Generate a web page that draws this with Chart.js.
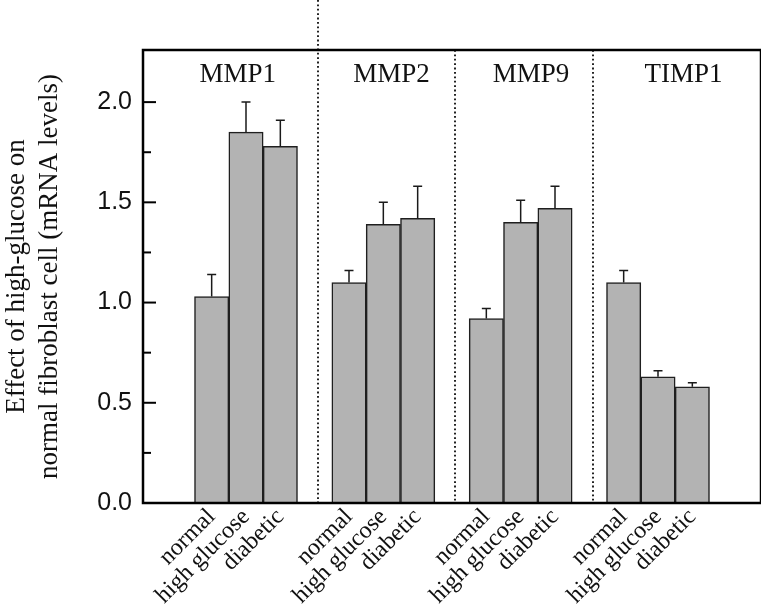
<!DOCTYPE html>
<html>
<head>
<meta charset="utf-8">
<script src="https://cdn.jsdelivr.net/npm/chart.js@4.4.0/dist/chart.umd.min.js"></script>
<style>
  html, body { margin: 0; padding: 0; background: #fff; }
  #wrap { width: 761px; height: 607px; position: relative; }
</style>
</head>
<body>
<div id="wrap"><canvas id="chart"></canvas></div>
<script>
// genes (panels) and conditions (bars in each panel)
const genes = ['MMP1', 'MMP2', 'MMP9', 'TIMP1'];
const conditions = ['normal', 'high glucose', 'diabetic'];

// mean mRNA level, condition order
const mmp1 = [1.03, 1.85, 1.78];
const mmp2 = [1.10, 1.39, 1.42];
const mmp9 = [0.92, 1.40, 1.47];
const timp1 = [1.10, 0.63, 0.58];

// upper error bars
const mmp1Err = [0.11, 0.15, 0.13];
const mmp2Err = [0.06, 0.11, 0.16];
const mmp9Err = [0.05, 0.11, 0.11];
const timp1Err = [0.06, 0.03, 0.02];

// labelled y ticks
const yTicks = [0.0, 0.5, 1.0, 1.5, 2.0];

// gene label positions on the x axis (axis units)
const geneLabelX = [2.76, 7.24, 11.3, 15.74];

const means = [mmp1, mmp2, mmp9, timp1];
const errs = [mmp1Err, mmp2Err, mmp9Err, timp1Err];

// bars sit one slot apart, with an empty slot between panels
const barData = [];
const barErr = [];
const tickPos = [];
const tickText = [];
genes.forEach((g, gi) => {
    conditions.forEach((c, ci) => {
        const pos = 2 + gi * 4 + ci;
        barData.push({ x: pos, y: means[gi][ci] });
        barErr.push(errs[gi][ci]);
        tickPos.push(pos);
        tickText.push(c);
    });
});
const separators = genes.slice(1).map((g, i) => 2 + (i + 1) * 4 - 0.9);

const serif = 'Liberation Serif, Times New Roman, serif';
const sans = 'Liberation Sans, Arial, sans-serif';

const decorPlugin = {
    id: 'decor',
    afterDatasetsDraw(chart) {
        const { ctx, chartArea: a, scales: { x, y } } = chart;
        ctx.save();

        // error bars (upper only)
        ctx.strokeStyle = '#1a1a1a';
        ctx.lineWidth = 1.5;
        barData.forEach((d, i) => {
            const px = x.getPixelForValue(d.x);
            const top = y.getPixelForValue(d.y);
            const cap = y.getPixelForValue(d.y + barErr[i]);
            ctx.beginPath();
            ctx.moveTo(px, top);
            ctx.lineTo(px, cap);
            ctx.moveTo(px - 4.5, cap);
            ctx.lineTo(px + 4.5, cap);
            ctx.stroke();
        });

        // dotted separators between panels
        ctx.strokeStyle = '#222';
        ctx.lineWidth = 2;
        ctx.setLineDash([1.8, 2.6]);
        separators.forEach((s, i) => {
            const px = Math.round(x.getPixelForValue(s));
            ctx.beginPath();
            ctx.moveTo(px, i === 0 ? 0 : a.top);
            ctx.lineTo(px, a.bottom);
            ctx.stroke();
        });
        ctx.setLineDash([]);

        // gene names
        ctx.fillStyle = '#111';
        ctx.font = '27px ' + serif;
        ctx.textAlign = 'center';
        ctx.textBaseline = 'middle';
        genes.forEach((g, i) => {
            ctx.fillText(g, x.getPixelForValue(geneLabelX[i]), a.top + 25);
        });

        // inward y ticks, long for labelled ones
        ctx.strokeStyle = '#000';
        ctx.lineWidth = 2;
        y.ticks.forEach(t => {
            const py = y.getPixelForValue(t.value);
            if (py < a.top + 3) return;
            const len = yTicks.includes(t.value) ? 13 : 8;
            ctx.beginPath();
            ctx.moveTo(a.left, py);
            ctx.lineTo(a.left + len, py);
            ctx.stroke();
        });

        // frame
        ctx.lineWidth = 2.5;
        ctx.strokeRect(a.left, a.top, a.right - a.left, a.bottom - a.top);
        ctx.restore();
    }
};

new Chart(document.getElementById('chart'), {
    type: 'bar',
    data: {
        datasets: [{
            data: barData,
            backgroundColor: '#b3b3b3',
            borderColor: '#1f1f1f',
            borderWidth: 1.5,
            barPercentage: 1,
            categoryPercentage: 1
        }]
    },
    options: {
        responsive: true,
        maintainAspectRatio: false,
        animation: false,
        layout: { padding: { top: 50, right: 0, left: 0, bottom: 0 } },
        plugins: {
            legend: { display: false },
            tooltip: { enabled: false }
        },
        scales: {
            x: {
                type: 'linear',
                offset: false,
                min: 0,
                max: 18,
                grid: { display: false, offset: false },
                border: { display: false },
                afterBuildTicks: scale => {
                    scale.ticks = tickPos.map(v => ({ value: v }));
                },
                afterFit: scale => {
                    scale.height = 104;
                    scale.paddingLeft = 0;
                    scale.paddingRight = 0;
                },
                ticks: {
                    minRotation: 45,
                    maxRotation: 45,
                    padding: -8,
                    color: '#111',
                    font: { family: serif, size: 24 },
                    callback: (v) => tickText[tickPos.indexOf(v)] || ''
                }
            },
            y: {
                min: 0,
                max: 2.26,
                grid: { display: false, drawTicks: false },
                border: { display: false },
                afterFit: scale => { scale.width = 143; },
                ticks: {
                    stepSize: 0.25,
                    padding: 11,
                    color: '#111',
                    font: { family: sans, size: 25 },
                    callback: v => yTicks.includes(v) ? v.toFixed(1) : ''
                },
                title: {
                    display: true,
                    text: ['Effect of high-glucose on', 'normal fibroblast cell (mRNA levels)'],
                    color: '#111',
                    font: { family: serif, size: 27, lineHeight: 1.22 },
                    padding: { top: 0, bottom: 0 }
                }
            }
        }
    },
    plugins: [decorPlugin]
});
</script>
</body>
</html>
